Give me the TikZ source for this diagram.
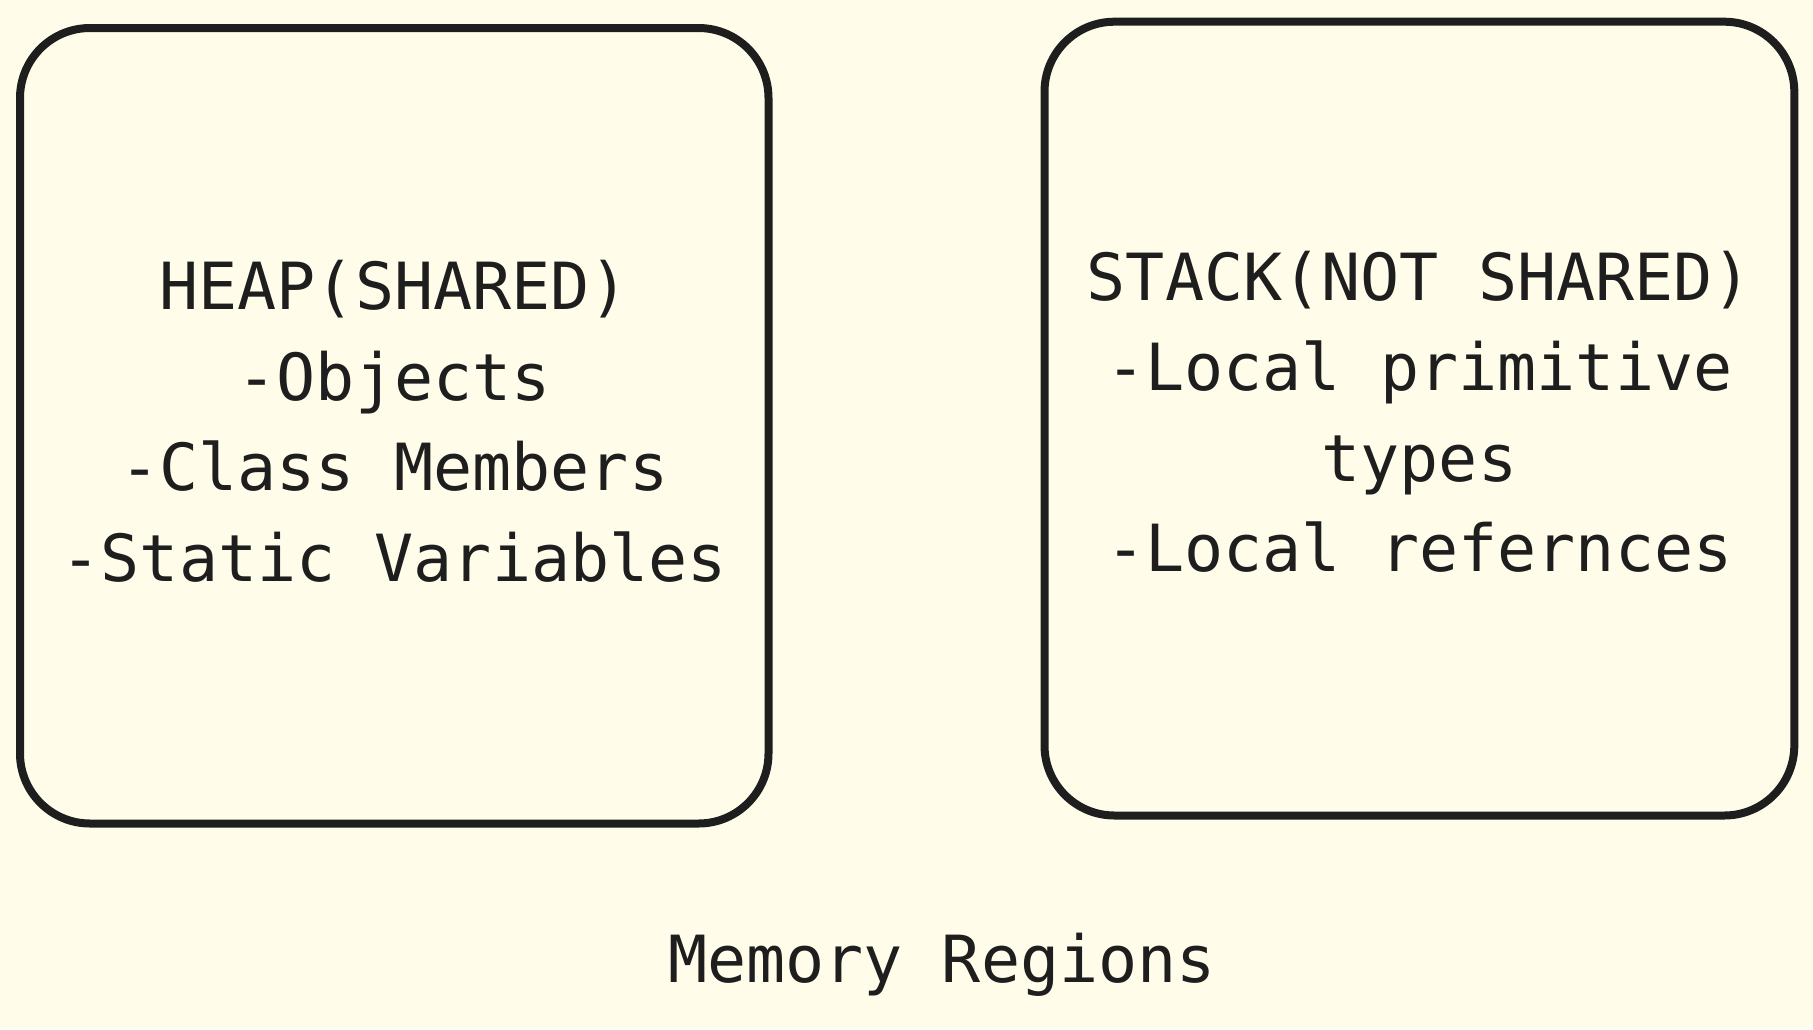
\documentclass[tikz,border=0pt]{standalone}
\usepackage{fontspec}
\setmonofont{DejaVu Sans Mono}
\definecolor{bg}{HTML}{FFFDEA}
\definecolor{ink}{HTML}{1E1E1E}
\begin{document}
\begin{tikzpicture}[x=1pt,y=-1pt,
  region/.style={draw=ink, line width=8pt, rounded corners=70pt, inner sep=0pt, outer sep=0pt,
    align=center, text=ink, font=\ttfamily\fontsize{65}{90.5}\selectfont},
  caption/.style={text=ink, inner sep=0pt, font=\ttfamily\fontsize{65}{90}\selectfont}]
\fill[bg] (0,0) rectangle (1813,1029);
\useasboundingbox (0,0) rectangle (1813,1029);
\node[region, minimum width=748.5pt, minimum height=795.5pt] (heap) at (394.25,425.75)
  {HEAP(SHARED)\\-Objects\\-Class Members\\-Static Variables\rule[-10pt]{0pt}{1pt}};
\node[region, minimum width=749.8pt, minimum height=793.8pt] (stack) at (1419.4,418.6)
  {STACK(NOT SHARED)\\-Local primitive\\types\\-Local refernces\rule[-15pt]{0pt}{1pt}};
\node[caption, anchor=base] (title) at (942,982) {Memory Regions};
\end{tikzpicture}
\end{document}
